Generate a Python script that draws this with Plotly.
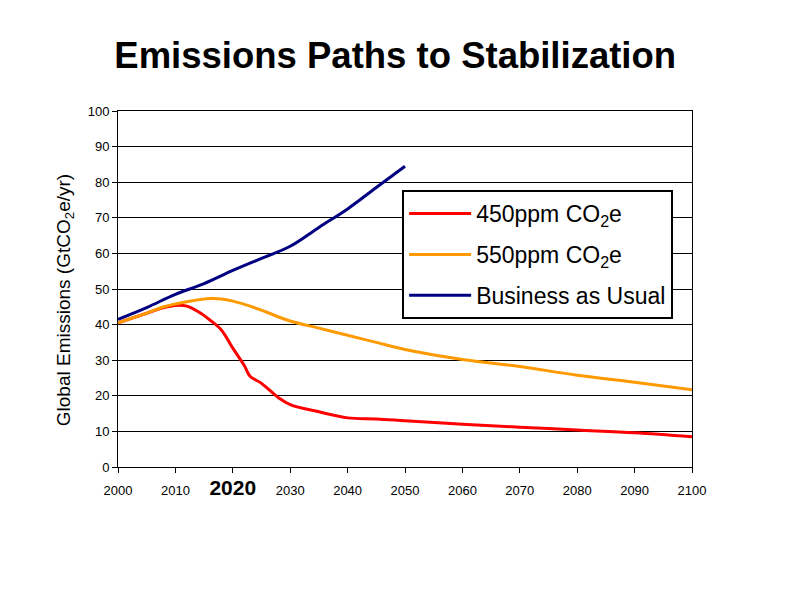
import plotly.graph_objects as go

years_450 = [2000, 2005, 2008, 2010, 2012, 2014, 2016, 2018, 2020, 2022, 2023, 2025, 2028, 2030, 2035, 2040, 2045, 2050, 2060, 2070, 2080, 2090, 2100]
vals_450 = [40.5, 43.2, 44.8, 45.4, 45.2, 43.6, 41.3, 38.5, 33.4, 28.5, 25.5, 23.5, 19.4, 17.5, 15.5, 13.8, 13.5, 13.0, 12.0, 11.2, 10.4, 9.6, 8.5]

years_550 = [2000, 2005, 2008, 2010, 2013, 2016, 2018, 2020, 2023, 2026, 2030, 2035, 2040, 2045, 2050, 2060, 2070, 2080, 2090, 2100]
vals_550 = [40.5, 43.2, 45.0, 45.8, 46.7, 47.3, 47.2, 46.6, 45.2, 43.4, 41.0, 39.0, 37.0, 35.0, 33.0, 30.2, 28.2, 25.8, 23.8, 21.7]

years_bau = [2000, 2005, 2010, 2015, 2020, 2025, 2030, 2035, 2040, 2045, 2050]
vals_bau = [41.5, 44.8, 48.5, 51.5, 55.2, 58.6, 62.0, 67.3, 72.5, 78.5, 84.5]

x_ticks = [2000, 2010, 2020, 2030, 2040, 2050, 2060, 2070, 2080, 2090, 2100]
x_ticktext = [str(v) if v != 2020 else "<b><span style='font-size:21px'>2020</span></b>" for v in x_ticks]
y_ticks = [0, 10, 20, 30, 40, 50, 60, 70, 80, 90, 100]

fig = go.Figure()
fig.add_trace(go.Scatter(x=years_450, y=vals_450, mode="lines", name="450ppm CO<sub>2</sub>e",
                         line=dict(color="#ff0000", width=3, shape="spline"), legendgroup="a"))
fig.add_trace(go.Scatter(x=years_550, y=vals_550, mode="lines", name="550ppm CO<sub>2</sub>e",
                         line=dict(color="#ff9900", width=3, shape="spline"), legendgroup="b"))
fig.add_trace(go.Scatter(x=years_bau, y=vals_bau, mode="lines", name="Business as Usual",
                         line=dict(color="#000080", width=3, shape="spline"), legendgroup="c"))

fig.add_annotation(text="Global Emissions (GtCO<sub>2</sub>e/yr)", textangle=-90,
                   xref="paper", yref="paper", x=-0.092, y=0.469, xanchor="center", yanchor="middle",
                   showarrow=False, font=dict(size=19, color="black"))

fig.update_layout(
    width=800, height=600,
    paper_bgcolor="white", plot_bgcolor="white",
    margin=dict(l=118, r=108, t=111, b=133),
    font=dict(family="Liberation Sans, Arial", color="black", size=12),
    title=dict(text="<b>Emissions Paths to Stabilization</b>", x=0.494, xanchor="center",
               y=0.908, yanchor="middle", font=dict(size=36.5, color="black")),
    showlegend=True,
    legend=dict(x=0.495, y=0.778, xanchor="left", yanchor="top",
                bordercolor="black", borderwidth=2, bgcolor="white",
                font=dict(size=23, color="black"), tracegroupgap=8,
                itemwidth=62),
    xaxis=dict(range=[2000, 2100], tickvals=x_ticks, ticktext=x_ticktext,
               showgrid=False, zeroline=False, showline=True, linecolor="black", linewidth=1,
               mirror=True, ticks="outside", ticklen=5, tickcolor="black",
               ticklabelstandoff=6,
               tickfont=dict(size=13, color="black")),
    yaxis=dict(range=[0, 100], tickvals=y_ticks, showgrid=True, gridcolor="black", gridwidth=1,
               zeroline=False, showline=True, linecolor="black", linewidth=1, mirror=True,
               ticks="outside", ticklen=5, tickcolor="black",
               tickfont=dict(size=13, color="black")),
)

fig.write_html("out.html")
